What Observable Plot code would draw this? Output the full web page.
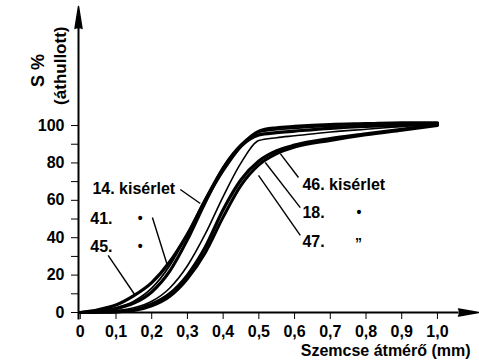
<!DOCTYPE html>
<html>
<head>
<meta charset="utf-8">
<script src="https://cdn.jsdelivr.net/npm/d3@7"></script>
<script src="https://cdn.jsdelivr.net/npm/@observablehq/plot@0.6"></script>
<style>
  html, body { margin: 0; padding: 0; background: #fff; }
  #chart svg { display: block; }
</style>
</head>
<body>
<div id="chart"></div>
<script>
// Grain diameter (mm) and cumulative passing S% for each experiment
const diam = [0, 0.05, 0.1, 0.15, 0.2, 0.25, 0.3, 0.35, 0.4, 0.45, 0.5, 0.55, 0.6, 0.7, 0.8, 0.9, 1.0];
const s45 = [0, 1.5, 4, 9, 16, 27, 42, 60, 76, 89, 97, 98.8, 99.5, 100.5, 101, 101.5, 101.5];
const s41 = [0, 0.8, 2.5, 6, 13, 25, 42, 61, 78, 90, 96.5, 97.8, 98.5, 99.5, 100, 100.5, 101];
const s14 = [0, 0.5, 2, 5, 11, 22, 39, 59, 77, 89, 95, 96.2, 97, 98.5, 99.5, 100, 101];
const s18 = [0, 0.5, 1, 2.5, 6, 13, 25, 42, 62, 80, 92, 93.5, 94.5, 96.5, 98, 99.5, 101];
const s46 = [0, 0.2, 0.5, 1.5, 4.5, 10, 20, 35, 55, 71, 81, 86.5, 89.5, 93, 95.5, 98, 100.5];
const s47 = [0, 0.1, 0.3, 1, 3.5, 8.5, 18, 32, 51, 68, 79, 85, 88.5, 92, 95, 97.5, 100];

const seriesNames = ["45", "41", "14", "18", "46", "47"];
const seriesValues = [s45, s41, s14, s18, s46, s47];

const xTicks = [0, 0.1, 0.2, 0.3, 0.4, 0.5, 0.6, 0.7, 0.8, 0.9, 1.0];
const yTicks = [0, 20, 40, 60, 80, 100];
const yMinorTicks = [10, 30, 50, 70, 90];

const yTitle1 = "S %";
const yTitle2 = "(áthullott)";
const xTitle = "Szemcse átmérő (mm)";

// label texts
const labelTexts = ["14. kisérlet", "41.", "45.", "46. kisérlet", "18.", "47."];
const dittoTexts = ["•", "•", "•", "\u201D"];

// ---- build tables ----
const rows = [];
seriesNames.forEach((name, i) => {
  diam.forEach((d, j) => rows.push({series: name, d, s: seriesValues[i][j]}));
});

// annotation layout (data coordinates)
const labelPos = [
  {x: 0.034, y: 66.3}, {x: 0.028, y: 50.3}, {x: 0.028, y: 35.3},
  {x: 0.622, y: 68.4}, {x: 0.622, y: 53.5}, {x: 0.622, y: 38.0}
];
const labels = labelTexts.map((t, i) => ({text: t, ...labelPos[i]}));
const dittoPos = [{x: 0.168, y: 50.3}, {x: 0.168, y: 35.3}, {x: 0.78, y: 53.5}, {x: 0.779, y: 37.0}];
const dittos = dittoTexts.map((t, i) => ({text: t, ...dittoPos[i]}));
const leaders = [
  {x1: 0.280, y1: 65.8, x2: 0.336, y2: 58.3},
  {x1: 0.202, y1: 50.8, x2: 0.244, y2: 25.1},
  {x1: 0.078, y1: 30.5, x2: 0.154, y2: 9.1},
  {x1: 0.611, y1: 72.2, x2: 0.560, y2: 85.0},
  {x1: 0.616, y1: 56.1, x2: 0.518, y2: 80.2},
  {x1: 0.616, y1: 41.2, x2: 0.499, y2: 73.3}
];

const widthOf = {"45": 3.2, "41": 1.8, "14": 3.2, "18": 1.6, "46": 3.2, "47": 3.0};
const FONT = "Liberation Sans, Arial, sans-serif";
const fmt = d => d === 0 ? "0" : d.toFixed(1).replace(".", ",");

const chart = Plot.plot({
  width: 479,
  height: 363,
  marginLeft: 78,
  marginRight: 1,
  marginTop: 5,
  marginBottom: 51,
  style: {fontFamily: FONT, fontWeight: "bold", color: "#000", background: "#fff"},
  x: {domain: [-0.005, 1.115]},
  y: {domain: [0, 164.2]},
  marks: [
    // axis lines with arrowheads
    Plot.ruleX([-0.005], {y1: -4, y2: 153, stroke: "#000", strokeWidth: 2}),
    Plot.ruleY([0], {x1: -0.005, x2: 1.06, stroke: "#000", strokeWidth: 2}),
    Plot.vector([0], {x: -0.005, y: 151.9, length: 22, rotate: 0, anchor: "start", shape: "spike", r: 3.5, fill: "#000", stroke: "#000"}),
    Plot.vector([0], {x: 1.059, y: 0, length: 20, rotate: 90, anchor: "start", shape: "spike", r: 3.5, fill: "#000", stroke: "#000"}),
    // axes
    Plot.axisY({ticks: yTicks, tickSize: 7, tickPadding: 7, fontSize: 16, tickFormat: d => String(d), label: null}),
    Plot.axisY({ticks: yMinorTicks, tickSize: 7, tickFormat: () => "", label: null}),
    Plot.axisX({ticks: xTicks, tickSize: 7, tickPadding: 6, fontSize: 16, tickFormat: fmt, label: null}),
    // curves
    Plot.line(rows, {
      x: "d", y: "s", z: "series", curve: "monotone-x",
      stroke: "#000", strokeWidth: r => widthOf[r.series], strokeLinejoin: "round", strokeLinecap: "round"
    }),
    // leaders and labels
    Plot.link(leaders, {x1: "x1", y1: "y1", x2: "x2", y2: "y2", stroke: "#000", strokeWidth: 1.4}),
    Plot.text(labels, {x: "x", y: "y", text: "text", textAnchor: "start", fontSize: 16, fontWeight: "bold", fill: "#000"}),
    Plot.text(dittos, {x: "x", y: "y", text: "text", fontSize: 14, fontWeight: "bold", fill: "#000"}),
    // axis titles
    Plot.text([yTitle1], {x: -0.117, y: 129.4, text: d => d, rotate: -90, fontSize: 18, fontWeight: "bold", fill: "#000"}),
    Plot.text([yTitle2], {x: -0.055, y: 132.0, text: d => d, rotate: -90, fontSize: 17, fontWeight: "bold", fill: "#000"}),
    Plot.text([xTitle], {x: 0.855, y: -20.3, text: d => d, fontSize: 16, fontWeight: "bold", fill: "#000"})
  ]
});
document.getElementById("chart").append(chart);
</script>
</body>
</html>
